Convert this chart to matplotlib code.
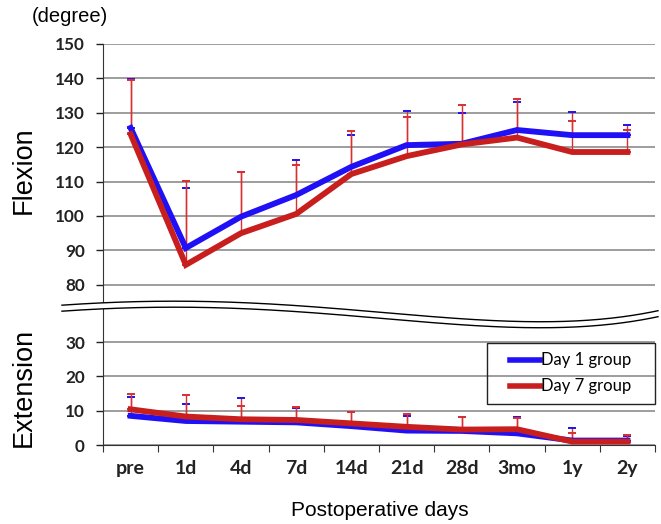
import numpy as np
import matplotlib
matplotlib.use('Agg')
import matplotlib.pyplot as plt
from matplotlib.lines import Line2D
from matplotlib.patches import Rectangle

# ── data ──
days = ['pre', '1d', '4d', '7d', '14d', '21d', '28d', '3mo', '1y', '2y']

flex_d1 = [125.6, 90.7, 99.8, 106.1, 114.3, 120.6, 121.0, 125.0, 123.5, 123.5]
flex_d7 = [123.8, 85.8, 95.0, 100.6, 112.2, 117.4, 120.8, 122.8, 118.6, 118.6]
flex_d1_top = [139.8, 108.2, 112.7, 116.2, 123.5, 130.5, 130.0, 133.2, 130.1, 126.5]
flex_d7_top = [139.5, 110.3, 112.7, 114.9, 124.6, 128.9, 132.3, 134.1, 127.7, 125.0]

ext_d1 = [8.5, 7.0, 6.8, 6.6, 5.5, 4.2, 4.1, 3.4, 1.3, 1.3]
ext_d7 = [10.4, 8.3, 7.5, 7.3, 6.3, 5.3, 4.5, 4.6, 1.0, 1.0]
ext_d1_top = [14.1, 11.9, 13.8, 10.8, 9.7, 8.5, 8.3, 8.3, 4.9, 2.5]
ext_d7_top = [14.9, 14.6, 11.5, 11.0, 9.7, 9.0, 8.3, 7.8, 3.6, 2.9]

BLUE = '#2010f5'
RED = '#c81e1e'
ERR = '#d83030'
W, H = 661, 524

fig = plt.figure(figsize=(W / 100, H / 100), dpi=100)
ax1 = fig.add_axes([103 / W, 1 - 305 / H, 552 / W, 261 / H])
ax2 = fig.add_axes([103 / W, 1 - 445 / H, 552 / W, 140 / H])

x = np.arange(len(days))


def draw(ax, d1, d7, d1_top, d7_top):
    d1 = np.array(d1); d7 = np.array(d7)
    eb = ax.errorbar(x, d1, yerr=[np.zeros_like(d1), np.array(d1_top) - d1], fmt='none',
                     ecolor=ERR, elinewidth=1, capsize=3, capthick=1.4, zorder=2)
    for c in eb[1]:
        c.set_markeredgecolor(BLUE)
        c.set_markerfacecolor(BLUE)
    ax.errorbar(x, d7, yerr=[np.zeros_like(d7), np.array(d7_top) - d7], fmt='none',
                ecolor=ERR, elinewidth=1, capsize=3, capthick=1.4, zorder=2.5)
    ax.plot(x, d1, color=BLUE, lw=4.2, solid_joinstyle='miter', zorder=3)
    ax.plot(x, d7, color=RED, lw=4.2, solid_joinstyle='miter', zorder=3.5)
    ax.set_xlim(-0.5, 9.5)
    ax.grid(axis='y', color='#8c8c8c', lw=1.2)
    ax.set_axisbelow(True)
    for s in ['top', 'right']:
        ax.spines[s].set_visible(False)
    ax.spines['left'].set_color('#333333')
    ax.tick_params(axis='y', direction='out', length=5, width=1, pad=8,
                   labelsize=12.3, colors='#222222')


draw(ax1, flex_d1, flex_d7, flex_d1_top, flex_d7_top)
ax1.set_ylim(150 - 261 / 3.44, 150)
ax1.set_yticks(range(80, 151, 10))
ax1.spines['bottom'].set_visible(False)
ax1.set_xticks([])

draw(ax2, ext_d1, ext_d7, ext_d1_top, ext_d7_top)
ax2.set_ylim(0, 140 / 3.43)
ax2.set_yticks([0, 10, 20, 30])
ax2.spines['bottom'].set_color('#333333')
ax2.set_xticks(np.arange(-0.5, 10, 1))
ax2.set_xticklabels([])
ax2.set_xticks(x, minor=True)
ax2.set_xticklabels(days, minor=True, fontweight='bold', fontsize=14, family='Lato')
ax2.tick_params(axis='x', which='major', direction='out', length=5, colors='#333333')
ax2.tick_params(axis='x', which='minor', length=0, pad=11, colors='#222222')

for ax in (ax1, ax2):
    for lab in ax.get_yticklabels():
        lab.set_fontweight('bold')
        lab.set_family('Lato')

# legend: box drawn separately
handles = [Line2D([0], [0], color=BLUE, lw=4), Line2D([0], [0], color=RED, lw=4)]
leg = ax2.legend(handles, ['Day 1 group', 'Day 7 group'], loc='center',
                 bbox_to_anchor=(571 / W, 1 - 373.5 / H), bbox_transform=fig.transFigure,
                 borderaxespad=0, frameon=False,
                 prop={'family': 'Lato', 'size': 12}, handlelength=1.8,
                 handletextpad=0.05, labelspacing=0.6, borderpad=0)
leg.set_zorder(5)
fig.patches.append(Rectangle((487 / W, 1 - 404 / H), 168 / W, 61 / H, transform=fig.transFigure,
                             facecolor='none', edgecolor='#222222', lw=1, zorder=5))

# ── wavy axis break ──
kx = np.array([60, 140, 230, 360, 500, 600, 660])
ky = np.array([305, 302.5, 301.5, 310, 322.5, 317.5, 311])
coef = np.polyfit(kx, ky, 4)
xs = np.linspace(62, 658, 300)
top = np.polyval(coef, xs)
bot = top + 6
fx = xs / W
fig.patches.append(plt.Polygon(np.column_stack([np.r_[fx, fx[::-1]],
                                                np.r_[1 - top / H, (1 - bot / H)[::-1]]]),
                               closed=True, transform=fig.transFigure, facecolor='white',
                               edgecolor='none', zorder=10))
fig.lines.append(Line2D(fx, 1 - top / H, transform=fig.transFigure, color='black', lw=1, zorder=11))
fig.lines.append(Line2D(fx, 1 - bot / H, transform=fig.transFigure, color='black', lw=1, zorder=11))

# ── labels ──
fig.text(32 / W, 1 - 16 / H, '(degree)', fontsize=14.5, family='Liberation Sans', va='center', ha='left')
fig.text(24 / W, 1 - 170 / H, 'Flexion', fontsize=19.5, family='Liberation Sans',
         rotation=90, va='center', ha='center')
fig.text(24 / W, 1 - 387 / H, 'Extension', fontsize=19.5, family='Liberation Sans',
         rotation=90, va='center', ha='center')
fig.text(380 / W, 1 - 510 / H, 'Postoperative days', fontsize=15, family='Liberation Sans',
         va='center', ha='center')

fig.savefig('out.png', dpi=100)
